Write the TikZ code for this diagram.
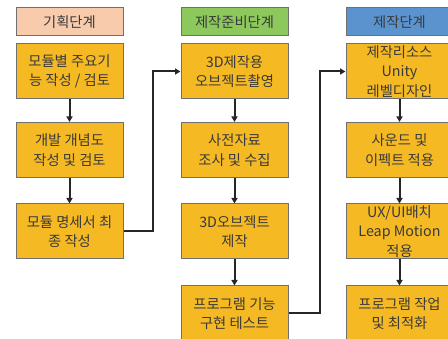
\documentclass[tikz,border=0pt]{standalone}
\usepackage{fontspec}
\setmainfont{Noto Sans CJK KR}
\usetikzlibrary{arrows.meta}
\definecolor{boxfill}{HTML}{F5B923}
\definecolor{boxline}{HTML}{707070}
\definecolor{hdrA}{HTML}{F8CBAD}
\definecolor{hdrB}{HTML}{8CC85C}
\definecolor{hdrC}{HTML}{5B93CF}
\definecolor{txt}{HTML}{3A3A3A}
\begin{document}
\begin{tikzpicture}[x=1pt,y=1pt,
  base/.style={draw=boxline, line width=1pt, minimum width=107pt, text=txt,
    font=\fontsize{14.3}{19.5}\selectfont, align=center, inner sep=1pt},
  hdr/.style={base, minimum height=28pt},
  stepbox/.style={base, fill=boxfill, minimum height=55pt},
  conn/.style={line width=2pt, draw=black!85, -{Triangle[length=5.5pt,width=6pt]}}]
\useasboundingbox (0,0) rectangle (448,-339);
% headers
\node[hdr, fill=hdrA] (h1) at (69.5,-22) {기획단계};
\node[hdr, fill=hdrB] (h2) at (234.5,-22) {제작준비단계};
\node[hdr, fill=hdrC] (h3) at (399.5,-22) {제작단계};
% column 1
\node[stepbox] (a1) at (69.5,-71.5) {모듈별 주요기\\능 작성 / 검토};
\node[stepbox] (a2) at (69.5,-150) {개발 개념도\\작성 및 검토};
\node[stepbox] (a3) at (69.5,-231.5) {모듈 명세서 최\\종 작성};
% column 2
\node[stepbox] (b1) at (234.5,-71.5) {3D제작용\\오브젝트촬영};
\node[stepbox] (b2) at (234.5,-150) {사전자료\\조사 및 수집};
\node[stepbox] (b3) at (234.5,-231.5) {3D오브젝트\\제작};
\node[stepbox] (b4) at (234.5,-313.5) {프로그램 기능\\구현 테스트};
% column 3
\node[stepbox] (c1) at (399.5,-71.5) {제작리소스\\Unity\\레벨디자인};
\node[stepbox] (c2) at (399.5,-150) {사운드 및\\이펙트 적용};
\node[stepbox] (c3) at (399.5,-231.5) {UX/UI배치\\Leap Motion\\적용};
\node[stepbox] (c4) at (399.5,-313.5) {프로그램 작업\\및 최적화};
% arrows
\draw[conn] (a1) -- (a2);
\draw[conn] (a2) -- (a3);
\draw[conn] (b1) -- (b2);
\draw[conn] (b2) -- (b3);
\draw[conn] (b3) -- (b4);
\draw[conn] (c1) -- (c2);
\draw[conn] (c2) -- (c3);
\draw[conn] (c3) -- (c4);
\draw[conn] (a3.east) -- ++(29,0) |- (b1.west);
\draw[conn] (b4.east) -- ++(31,0) |- (c1.west);
\end{tikzpicture}
\end{document}
